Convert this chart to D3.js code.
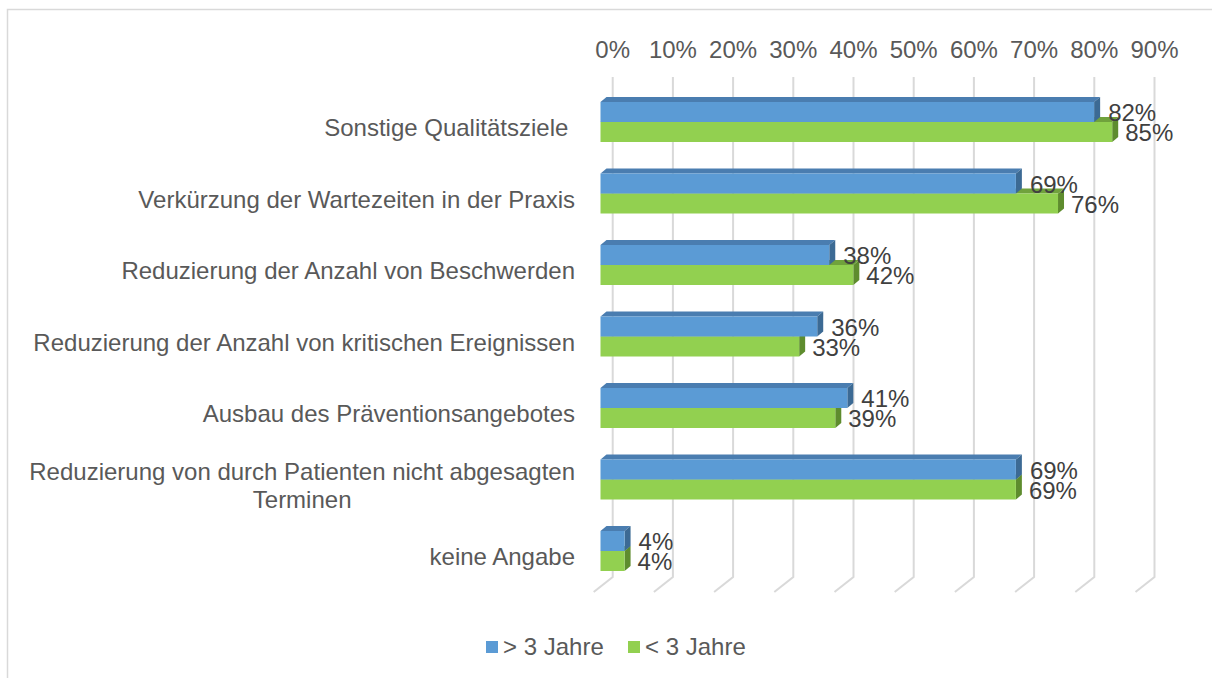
<!DOCTYPE html>
<html>
<head>
<meta charset="utf-8">
<script src="https://cdn.jsdelivr.net/npm/d3@7"></script>
<style>
  body { margin: 0; background: #fff; }
  text { font-family: "Liberation Sans", Arial, sans-serif; white-space: pre; }
</style>
</head>
<body>
<script>
// data
var categories = [
  ["Sonstige Qualitätsziele "],
  ["Verkürzung der Wartezeiten in der Praxis"],
  ["Reduzierung der Anzahl von Beschwerden"],
  ["Reduzierung der Anzahl von kritischen Ereignissen"],
  ["Ausbau des Präventionsangebotes"],
  ["Reduzierung von durch Patienten nicht abgesagten", "Terminen"],
  ["keine Angabe"]
];
var over3 = [82, 69, 38, 36, 41, 69, 4];   // > 3 Jahre
var under3 = [85, 76, 42, 33, 39, 69, 4];  // < 3 Jahre
var ticks = [0, 10, 20, 30, 40, 50, 60, 70, 80, 90];
var seriesNames = ["> 3 Jahre", "< 3 Jahre"];

var width = 1212, height = 678;
var fs = 24;
var svg = d3.select("body").append("svg")
    .attr("width", width)
    .attr("height", height);

// frame (cropped)
svg.append("path")
   .attr("d", "M7.5,678 L7.5,9.5 L1212,9.5")
   .attr("fill", "none")
   .attr("stroke", "#d9d9d9")
   .attr("stroke-width", 1.5);

var x = d3.scaleLinear().domain([0, 90]).range([0, 541.8]);
var frontX = 600.5, backX = 612.7;
var y = d3.scaleBand().domain(d3.range(categories.length)).range([86.25, 586.75]);
var barH = 20, dx = 6, dy = 5;
var wallTop = 77, wallBottom = 577, floorDx = -19, floorDy = 15;

// back wall grid + floor
var grid = svg.append("g");
grid.selectAll("path")
  .data(ticks)
  .enter().append("path")
  .attr("d", function(t) {
    var gx = backX + x(t);
    return "M" + gx + "," + wallTop + " L" + gx + "," + wallBottom +
           " L" + (gx + floorDx) + "," + (wallBottom + floorDy);
  })
  .attr("fill", "none")
  .attr("stroke", "#d9d9d9")
  .attr("stroke-width", 2);

svg.append("g").selectAll("text")
  .data(ticks)
  .enter().append("text")
  .attr("x", function(t) { return backX + x(t); })
  .attr("y", 58)
  .attr("text-anchor", "middle")
  .attr("font-size", fs)
  .attr("fill", "#595959")
  .text(function(t) { return t + "%"; });

// category labels
var labels = svg.append("g").selectAll("text")
  .data(categories)
  .enter().append("text")
  .attr("font-size", fs)
  .attr("fill", "#595959");

labels.each(function(lines, i) {
  var el = d3.select(this);
  var cy = y(i) + y.bandwidth() / 2 + 6;
  var y0 = cy + 8 - (lines.length - 1) * 14;
  if (lines.length === 1) {
    el.attr("x", 575).attr("y", y0).attr("text-anchor", "end").text(lines[0]);
  } else {
    // measure widest line, center the rest under it
    var tmp = svg.append("text").attr("font-size", fs).text(lines[0]);
    var w = tmp.node().getComputedTextLength();
    tmp.remove();
    var mid = 575 - w / 2;
    el.attr("text-anchor", "middle");
    lines.forEach(function(l, k) {
      el.append("tspan").attr("x", mid).attr("y", y0 + k * 28).text(l);
    });
  }
});

// 3d bars
var colors = [
  {front: "#5b9bd5", top: "#4a7db0", side: "#3c6a94"},
  {front: "#92d050", top: "#70a23c", side: "#5e8c2e"}
];

function drawBar(g, v, top, c) {
  var x0 = frontX, x1 = frontX + x(v), bot = top + barH;
  g.append("path")
   .attr("d", "M" + x0 + "," + top + " L" + (x0 + dx) + "," + (top - dy) +
              " L" + (x1 + dx) + "," + (top - dy) + " L" + x1 + "," + top + "Z")
   .attr("fill", c.top);
  g.append("path")
   .attr("d", "M" + x1 + "," + top + " L" + (x1 + dx) + "," + (top - dy) +
              " L" + (x1 + dx) + "," + (bot - dy) + " L" + x1 + "," + bot + "Z")
   .attr("fill", c.side);
  g.append("rect")
   .attr("x", x0).attr("y", top)
   .attr("width", x1 - x0).attr("height", barH)
   .attr("fill", c.front);
}

var bars = svg.append("g");
categories.forEach(function(cat, i) {
  var mid = y(i) + y.bandwidth() / 2;
  var g = bars.append("g");
  drawBar(g, under3[i], mid, colors[1]);
  drawBar(g, over3[i], mid - barH, colors[0]);
});

// value labels
var vl = svg.append("g")
  .attr("font-size", fs)
  .attr("fill", "#404040");
categories.forEach(function(cat, i) {
  var mid = y(i) + y.bandwidth() / 2;
  vl.append("text")
    .attr("x", frontX + x(over3[i]) + 14)
    .attr("y", mid - barH / 2 + 9)
    .text(over3[i] + "%");
  vl.append("text")
    .attr("x", frontX + x(under3[i]) + 13)
    .attr("y", mid + barH / 2 + 9)
    .text(under3[i] + "%");
});

// legend
var legX = [486, 628];
var leg = svg.append("g").selectAll("g")
  .data(seriesNames)
  .enter().append("g")
  .attr("transform", function(d, i) { return "translate(" + legX[i] + ",641)"; });
leg.append("rect")
  .attr("width", 12).attr("height", 12)
  .attr("fill", function(d, i) { return colors[i].front; });
leg.append("text")
  .attr("x", 17).attr("y", 14)
  .attr("font-size", fs)
  .attr("fill", "#595959")
  .text(function(d) { return d; });
</script>
</body>
</html>
